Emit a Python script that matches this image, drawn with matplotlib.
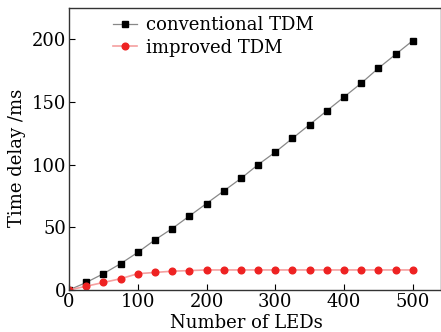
import matplotlib
matplotlib.use("Agg")
import matplotlib.pyplot as plt

plt.rcParams['font.family'] = ['DejaVu Serif']
plt.rcParams['mathtext.fontset'] = 'dejavuserif'

leds = [0, 25, 50, 75, 100, 125, 150, 175, 200, 225, 250, 275, 300,
        325, 350, 375, 400, 425, 450, 475, 500]
conventional = [0, 6, 13, 21, 30, 40, 49, 59, 69, 79, 89, 100, 110,
                121, 132, 143, 154, 165, 177, 188, 199]
improved = [0, 3, 6, 9, 13, 14, 15, 15.5, 16, 16, 16, 16, 16,
            16, 16, 16, 16, 16, 16, 16, 16]

fig = plt.figure(figsize=(4.41, 3.32), dpi=100)
ax = fig.add_axes([69 / 441, (332 - 290) / 332, (441 - 69) / 441, (290 - 8) / 332])

ax.plot(leds, conventional, color='#888888', lw=0.9, marker='s', ms=4.3,
        mfc='black', mec='black', label='conventional TDM')
ax.plot(leds, improved, color='#f5a0a0', lw=1.2, marker='o', ms=4.8,
        mfc='#ee2222', mec='#ee2222', label='improved TDM')

ax.set_xlim(0, 541)
ax.set_ylim(0, 225)
ax.set_xticks([0, 100, 200, 300, 400, 500])
ax.set_yticks([0, 50, 100, 150, 200])
ax.tick_params(direction='in', labelsize=13, length=4, pad=2)
ax.set_xlabel('Number of LEDs', fontsize=13)
ax.set_ylabel('Time delay /ms', fontsize=13)
ax.xaxis.set_label_coords(0.476, -0.085)
ax.yaxis.set_label_coords(-0.115, 0.47)
for s in ax.spines.values():
    s.set_linewidth(1.0)
    s.set_color('#333333')

ax.legend(loc='upper left', bbox_to_anchor=(0.09, 1.01), frameon=False,
          fontsize=13, handlelength=1.3, handletextpad=0.5,
          labelspacing=0.25, borderaxespad=0.2)

fig.savefig("out.png", dpi=100)
